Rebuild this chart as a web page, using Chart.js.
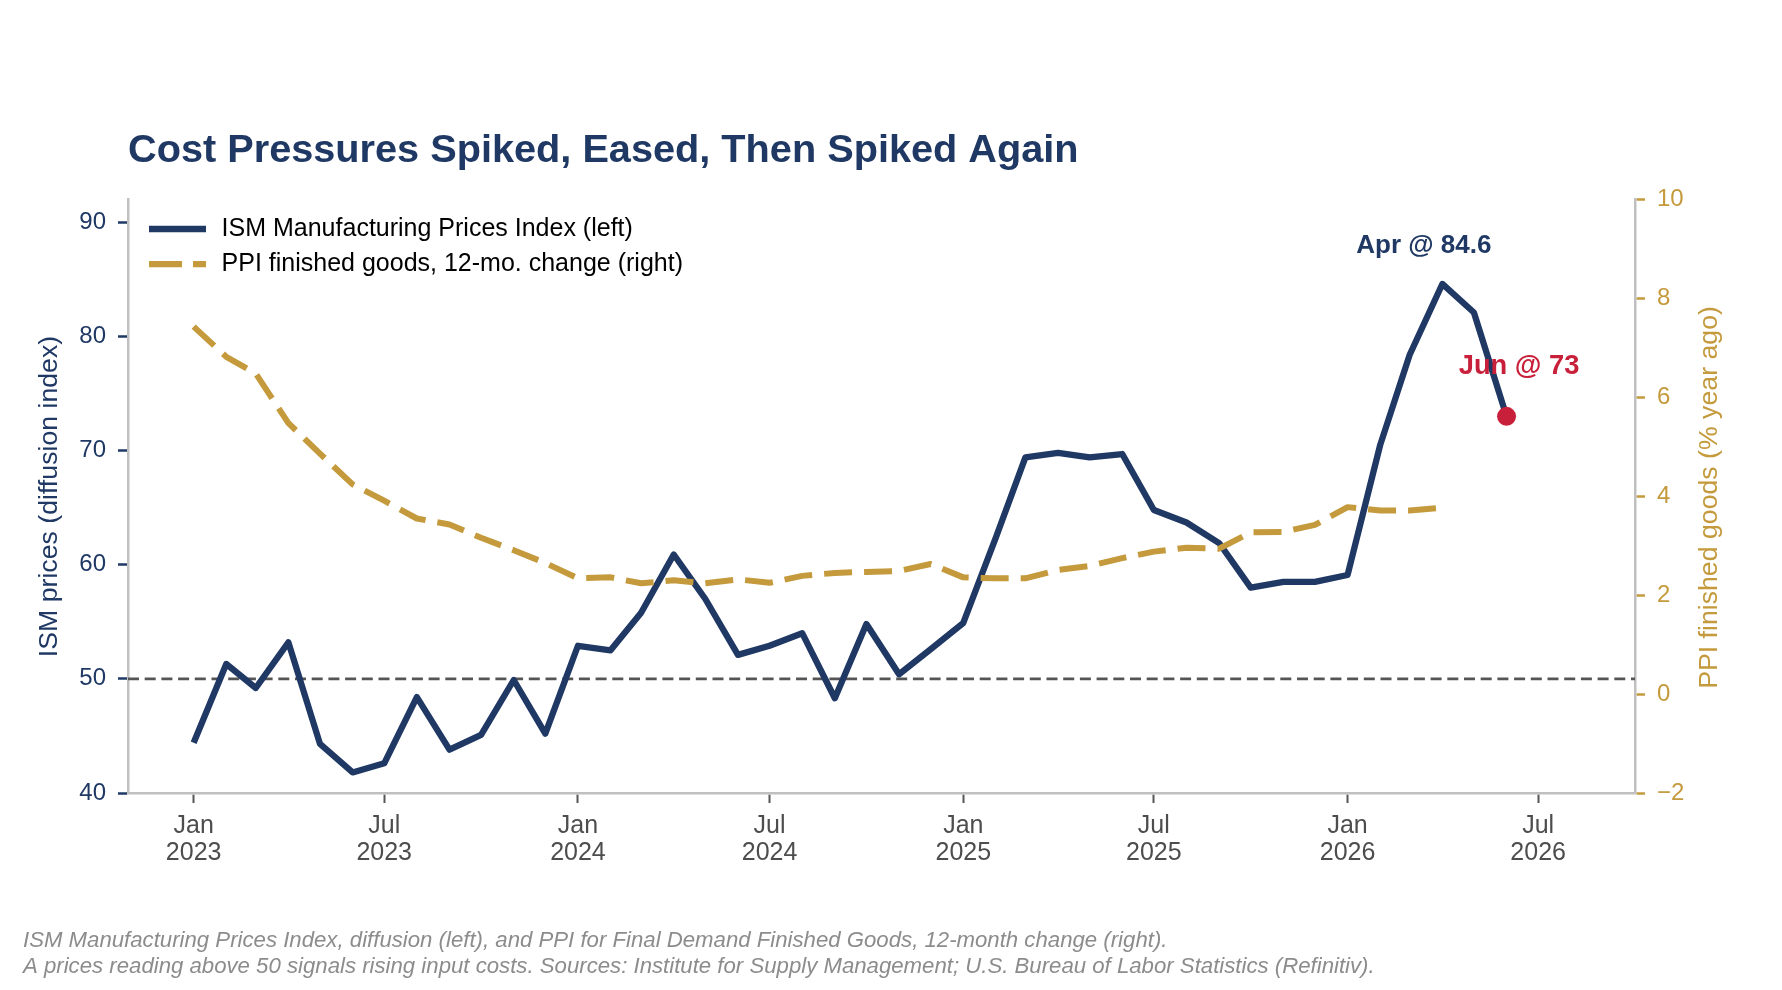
<!DOCTYPE html>
<html>
<head>
<meta charset="utf-8">
<script src="https://cdn.jsdelivr.net/npm/chart.js@4.4.1/dist/chart.umd.min.js"></script>
<style>
  html, body { margin: 0; padding: 0; background: #fff; }
  #wrap { position: relative; width: 1782px; height: 990px; }
</style>
</head>
<body>
<div id="wrap"><canvas id="chart" width="1782" height="990"></canvas></div>
<script>
// months of the series (first of month)
const months = [
  '2023-01','2023-02','2023-03','2023-04','2023-05','2023-06','2023-07','2023-08','2023-09','2023-10','2023-11','2023-12',
  '2024-01','2024-02','2024-03','2024-04','2024-05','2024-06','2024-07','2024-08','2024-09','2024-10','2024-11','2024-12',
  '2025-01','2025-02','2025-03','2025-04','2025-05','2025-06','2025-07','2025-08','2025-09','2025-10','2025-11','2025-12',
  '2026-01','2026-02','2026-03','2026-04','2026-05','2026-06'
];
// ISM Manufacturing Prices Index (left axis)
const ismValues = [
  44.4, 51.3, 49.2, 53.2, 44.3, 41.8, 42.6, 48.4, 43.8, 45.1, 49.9, 45.2,
  52.9, 52.5, 55.8, 60.9, 57.0, 52.1, 52.9, 54.0, 48.3, 54.8, 50.4, 52.6,
  54.9, 62.4, 69.4, 69.8, 69.4, 69.7, 64.8, 63.7, 61.9, 58.0, 58.5, 58.5,
  59.1, 70.5, 78.4, 84.6, 82.1, 73.0
];
// PPI finished goods, 12-mo. change (right axis), ends Apr 2026
const ppiValues = [
  7.43, 6.82, 6.48, 5.48, 4.86, 4.24, 3.91, 3.55, 3.43, 3.16, 2.91, 2.65,
  2.34, 2.36, 2.24, 2.30, 2.24, 2.32, 2.25, 2.39, 2.45, 2.47, 2.49, 2.63,
  2.36, 2.34, 2.34, 2.51, 2.59, 2.75, 2.88, 2.96, 2.94, 3.27, 3.28, 3.42,
  3.78, 3.71, 3.71, 3.77
];
const threshold = 50;

const leftTicks = [40, 50, 60, 70, 80, 90];
const rightTicks = [-2, 0, 2, 4, 6, 8, 10];
const xTickMonths = ['2023-01','2023-07','2024-01','2024-07','2025-01','2025-07','2026-01','2026-07'];
const xTickLabels = [['Jan','2023'],['Jul','2023'],['Jan','2024'],['Jul','2024'],['Jan','2025'],['Jul','2025'],['Jan','2026'],['Jul','2026']];

const NAVY = '#1f3864';
const GOLD = '#c49a3c';
const RED = '#c8203a';
const FONT = '"Liberation Sans", Arial, sans-serif';
const DAY = 86400000;

function toX(m) {
  const [y, mo] = m.split('-').map(Number);
  return Date.UTC(y, mo - 1, 1);
}

const ismData = months.map((m, i) => ({ x: toX(m), y: ismValues[i] }));
const ppiData = ppiValues.map((v, i) => ({ x: toX(months[i]), y: v }));
const lastIdx = ismValues.length - 1;
const peakIdx = ismValues.indexOf(Math.max(...ismValues));

// title, legend, axis titles, notes and annotations
const decor = {
  id: 'decor',
  beforeDatasetsDraw(chart) {
    const { ctx, chartArea, scales } = chart;
    const y = scales.y.getPixelForValue(threshold);
    ctx.save();
    ctx.strokeStyle = '#555';
    ctx.lineWidth = 2.8;
    ctx.setLineDash([11, 5.7]);
    ctx.beginPath();
    ctx.moveTo(chartArea.left, y);
    ctx.lineTo(chartArea.right, y);
    ctx.stroke();
    ctx.restore();
  },
  afterDraw(chart) {
    const { ctx, scales } = chart;
    ctx.save();
    // title
    ctx.fillStyle = NAVY;
    ctx.font = 'bold 39.7px ' + FONT;
    ctx.textAlign = 'left';
    ctx.textBaseline = 'alphabetic';
    ctx.fillText('Cost Pressures Spiked, Eased, Then Spiked Again', 128, 162);

    // legend
    ctx.lineWidth = 6.3;
    ctx.strokeStyle = NAVY;
    ctx.beginPath(); ctx.moveTo(149, 229); ctx.lineTo(206, 229); ctx.stroke();
    ctx.strokeStyle = GOLD;
    ctx.setLineDash([33, 11]);
    ctx.beginPath(); ctx.moveTo(149, 264.2); ctx.lineTo(206, 264.2); ctx.stroke();
    ctx.setLineDash([]);
    ctx.fillStyle = '#000';
    ctx.font = '25px ' + FONT;
    ctx.textBaseline = 'middle';
    ctx.fillText('ISM Manufacturing Prices Index (left)', 221.6, 229);
    ctx.fillText('PPI finished goods, 12-mo. change (right)', 221.6, 264.2);

    // axis titles
    ctx.font = '26.7px ' + FONT;
    ctx.textAlign = 'center';
    ctx.save();
    ctx.translate(50, 496.5);
    ctx.rotate(-Math.PI / 2);
    ctx.fillStyle = NAVY;
    ctx.fillText('ISM prices (diffusion index)', 0, 0);
    ctx.restore();
    ctx.save();
    ctx.translate(1710, 497.5);
    ctx.rotate(-Math.PI / 2);
    ctx.fillStyle = GOLD;
    ctx.fillText('PPI finished goods (% year ago)', 0, 0);
    ctx.restore();

    // annotations
    const px = scales.x.getPixelForValue(ismData[peakIdx].x);
    const py = scales.y.getPixelForValue(ismData[peakIdx].y);
    ctx.font = 'bold 26px ' + FONT;
    ctx.fillStyle = NAVY;
    ctx.fillText('Apr @ ' + ismValues[peakIdx], px - 18.5, py - 38.5);
    const lx = scales.x.getPixelForValue(ismData[lastIdx].x);
    const ly = scales.y.getPixelForValue(ismData[lastIdx].y);
    ctx.font = 'bold 27.3px ' + FONT;
    ctx.fillStyle = RED;
    ctx.fillText('Jun @ ' + Math.round(ismValues[lastIdx]), lx + 12.5, ly - 50);

    // notes
    ctx.font = 'italic 22.2px ' + FONT;
    ctx.fillStyle = '#8c8c8c';
    ctx.textAlign = 'left';
    ctx.textBaseline = 'alphabetic';
    ctx.fillText('ISM Manufacturing Prices Index, diffusion (left), and PPI for Final Demand Finished Goods, 12-month change (right).', 23, 947);
    ctx.fillText('A prices reading above 50 signals rising input costs. Sources: Institute for Supply Management; U.S. Bureau of Labor Statistics (Refinitiv).', 23, 973);
    ctx.restore();
  }
};

new Chart(document.getElementById('chart'), {
  type: 'line',
  data: {
    datasets: [
      {
        label: 'Jun point',
        data: [ismData[lastIdx]],
        yAxisID: 'y',
        showLine: false,
        pointRadius: 9.5,
        pointBackgroundColor: RED,
        pointBorderWidth: 0,
        order: 0
      },
      {
        label: 'PPI finished goods, 12-mo. change (right)',
        data: ppiData,
        yAxisID: 'y2',
        borderColor: GOLD,
        borderWidth: 6,
        borderDash: [28, 12],
        borderJoinStyle: 'round',
        pointRadius: 0,
        tension: 0,
        order: 1
      },
      {
        label: 'ISM Manufacturing Prices Index (left)',
        data: ismData,
        yAxisID: 'y',
        borderColor: NAVY,
        borderWidth: 6.3,
        borderJoinStyle: 'round',
        pointRadius: 0,
        tension: 0,
        order: 2
      }
    ]
  },
  options: {
    responsive: false,
    animation: false,
    layout: { padding: { top: 199.5, left: 0, right: 0, bottom: 0 } },
    plugins: { legend: { display: false }, title: { display: false }, tooltip: { enabled: false } },
    scales: {
      x: {
        type: 'linear',
        min: toX('2023-01') - 62.35 * DAY,
        max: toX('2026-10'),
        afterBuildTicks: s => { s.ticks = xTickMonths.map(m => ({ value: toX(m) })); },
        afterFit: s => { s.height = 197; },
        ticks: {
          autoSkip: false, maxRotation: 0, minRotation: 0, padding: 9.5,
          color: '#4d4d4d', font: { family: FONT, size: 25, lineHeight: 1.07 },
          callback: (v, i) => xTickLabels[i]
        },
        grid: { drawOnChartArea: false, drawTicks: true, tickLength: 10, tickColor: '#555', tickWidth: 2 },
        border: { color: '#c0c0c0', width: 2.5 }
      },
      y: {
        position: 'left',
        min: 40, max: 92,
        afterBuildTicks: s => { s.ticks = leftTicks.map(v => ({ value: v })); },
        afterFit: s => { s.width = 128; },
        ticks: { color: NAVY, font: { family: FONT, size: 24 }, padding: 12 },
        grid: { drawOnChartArea: false, tickLength: 10, tickColor: NAVY, tickWidth: 2.5 },
        border: { color: '#c0c0c0', width: 2.5 }
      },
      y2: {
        position: 'right',
        min: -2, max: 10,
        afterBuildTicks: s => { s.ticks = rightTicks.map(v => ({ value: v })); },
        afterFit: s => { s.width = 147; },
        ticks: {
          color: GOLD, font: { family: FONT, size: 24 }, padding: 12,
          callback: v => String(v).replace('-', '\u2212')
        },
        grid: { drawOnChartArea: false, tickLength: 10, tickColor: GOLD, tickWidth: 2.5 },
        border: { color: '#c0c0c0', width: 2.5 }
      }
    }
  },
  plugins: [decor]
});
</script>
</body>
</html>
